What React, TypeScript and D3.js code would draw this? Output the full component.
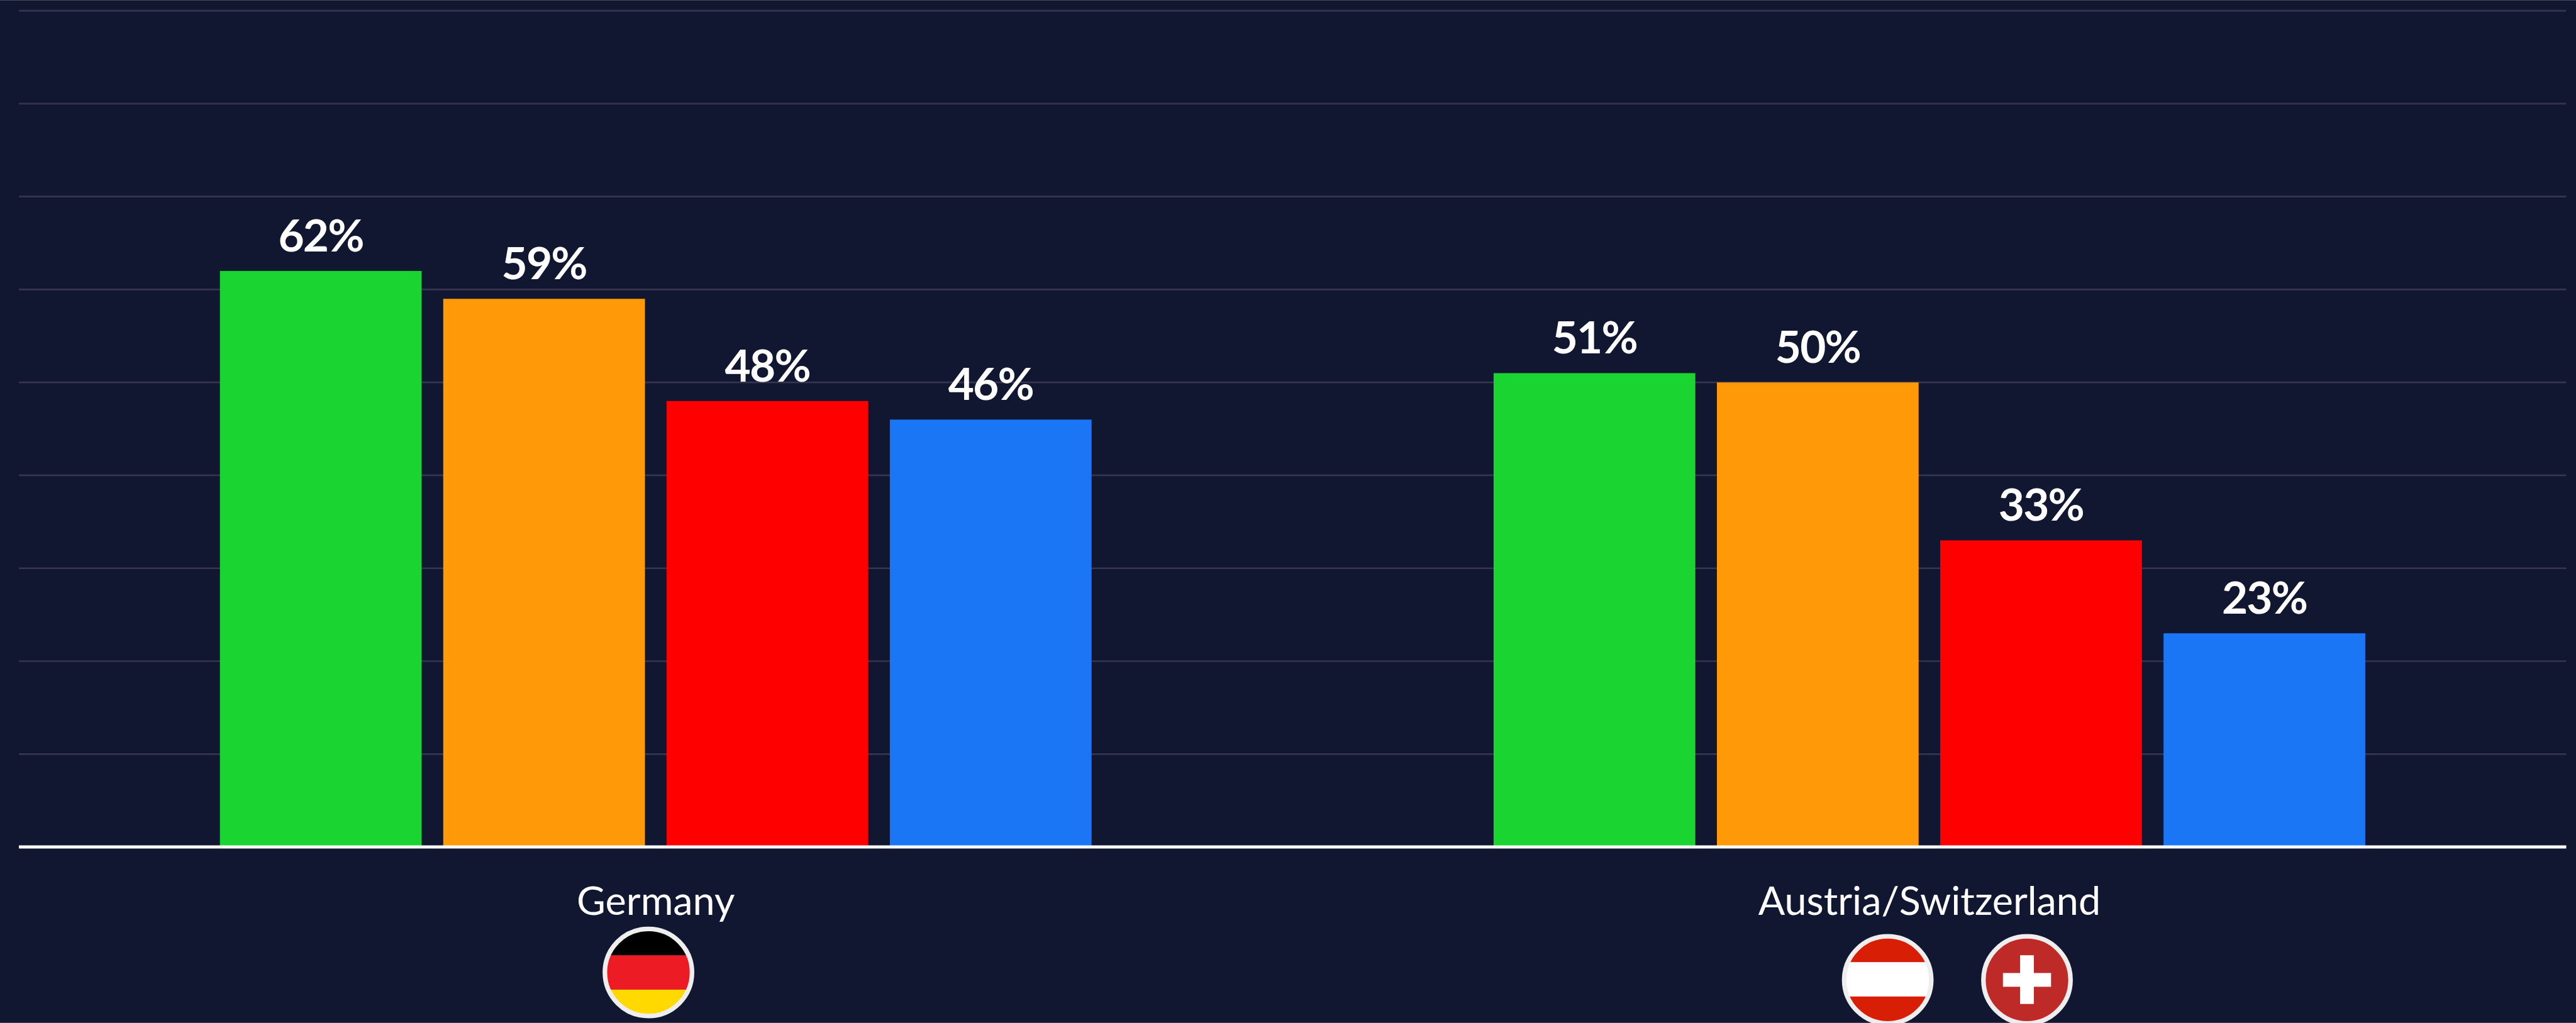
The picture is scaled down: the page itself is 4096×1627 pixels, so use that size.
import React from "react";
import * as d3 from "d3";

// Survey shares by region, in percent
const regions = ["Germany", "Austria/Switzerland"];
const seriesKeys = ["green", "orange", "red", "blue"];
const germanyValues = [62, 59, 48, 46];
const austriaSwitzerlandValues = [51, 50, 33, 23];
const gridTicks = [10, 20, 30, 40, 50, 60, 70, 80, 90];

const barColors = ["#1ad531", "#ff9908", "#ff0000", "#1a76f5"];
const background = "#111631";
const gridColor = "#35354f";
const labelFont = "Lato, 'Open Sans', sans-serif";

const W = 4495;
const H = 1785;
const plotLeft = 33;
const plotRight = 4478;
const baselineY = 1478;
const topY = 18.6;

const valuesByRegion = [germanyValues, austriaSwitzerlandValues];

function RoundFlag({ cx, cy, clipId, children }: { cx: number; cy: number; clipId: string; children: React.ReactNode }) {
  const r = 76;
  return (
    <g>
      <clipPath id={clipId}>
        <circle cx={cx} cy={cy} r={r} />
      </clipPath>
      <g clipPath={`url(#${clipId})`}>{children}</g>
      <circle cx={cx} cy={cy} r={r} fill="none" stroke="#eeeeee" strokeWidth={8} />
    </g>
  );
}

export default function App() {
  const y = d3.scaleLinear().domain([0, 90]).range([baselineY, topY]);
  const x0 = d3.scaleBand<string>().domain(regions).range([plotLeft, plotRight]);
  const clusterWidth = 1521;
  const x1 = d3
    .scaleBand<string>()
    .domain(seriesKeys)
    .range([(x0.bandwidth() - clusterWidth) / 2, (x0.bandwidth() + clusterWidth) / 2])
    .paddingInner(0.0967);

  const germanyCx = 1131.5;
  const germanyCy = 1697;
  const alpineCy = 1710;
  const austriaCx = 3294;
  const swissCx = 3537;

  return (
    <svg
      width={4096}
      height={1627}
      viewBox={`0 0 ${W} ${H}`}
      style={{ position: "fixed", left: 0, top: 0, display: "block" }}
    >
      <rect x={0} y={0} width={W} height={H} fill={background} />

      {gridTicks.map((t) => (
        <line key={t} x1={plotLeft} x2={plotRight} y1={y(t)} y2={y(t)} stroke={gridColor} strokeWidth={3} />
      ))}

      {regions.map((region, ri) => (
        <g key={region} transform={`translate(${x0(region)},0)`}>
          {seriesKeys.map((key, si) => {
            const v = valuesByRegion[ri][si];
            const bx = x1(key) as number;
            return (
              <g key={key}>
                <rect x={bx} y={y(v)} width={x1.bandwidth()} height={baselineY - y(v)} fill={barColors[si]} />
                <text
                  x={bx + x1.bandwidth() / 2}
                  y={y(v) - 34}
                  textAnchor="middle"
                  fill="#ffffff"
                  fontFamily={labelFont}
                  fontWeight={700}
                  fontSize={78}
                  letterSpacing={-2}
                >
                  {v}%
                </text>
              </g>
            );
          })}
          <text
            x={x0.bandwidth() / 2}
            y={1597}
            textAnchor="middle"
            fill="#ffffff"
            fontFamily={labelFont}
            fontSize={69}
          >
            {region}
          </text>
        </g>
      ))}

      <line x1={plotLeft} x2={plotRight} y1={baselineY} y2={baselineY} stroke="#ffffff" strokeWidth={5.5} />

      <RoundFlag cx={germanyCx} cy={germanyCy} clipId="flag-de">
        <rect x={germanyCx - 80} y={germanyCy - 80} width={160} height={50} fill="#000000" />
        <rect x={germanyCx - 80} y={germanyCy - 30} width={160} height={60} fill="#ed1c24" />
        <rect x={germanyCx - 80} y={germanyCy + 30} width={160} height={50} fill="#ffd900" />
      </RoundFlag>

      <RoundFlag cx={austriaCx} cy={alpineCy} clipId="flag-at">
        <rect x={austriaCx - 80} y={alpineCy - 80} width={160} height={160} fill="#d81e05" />
        <rect x={austriaCx - 80} y={alpineCy - 31} width={160} height={60} fill="#ffffff" />
      </RoundFlag>

      <RoundFlag cx={swissCx} cy={alpineCy} clipId="flag-ch">
        <rect x={swissCx - 80} y={alpineCy - 80} width={160} height={160} fill="#bd2a27" />
        <rect x={swissCx - 12} y={alpineCy - 43} width={24} height={85} fill="#ffffff" />
        <rect x={swissCx - 42} y={alpineCy - 12} width={84} height={24} fill="#ffffff" />
      </RoundFlag>
    </svg>
  );
}
